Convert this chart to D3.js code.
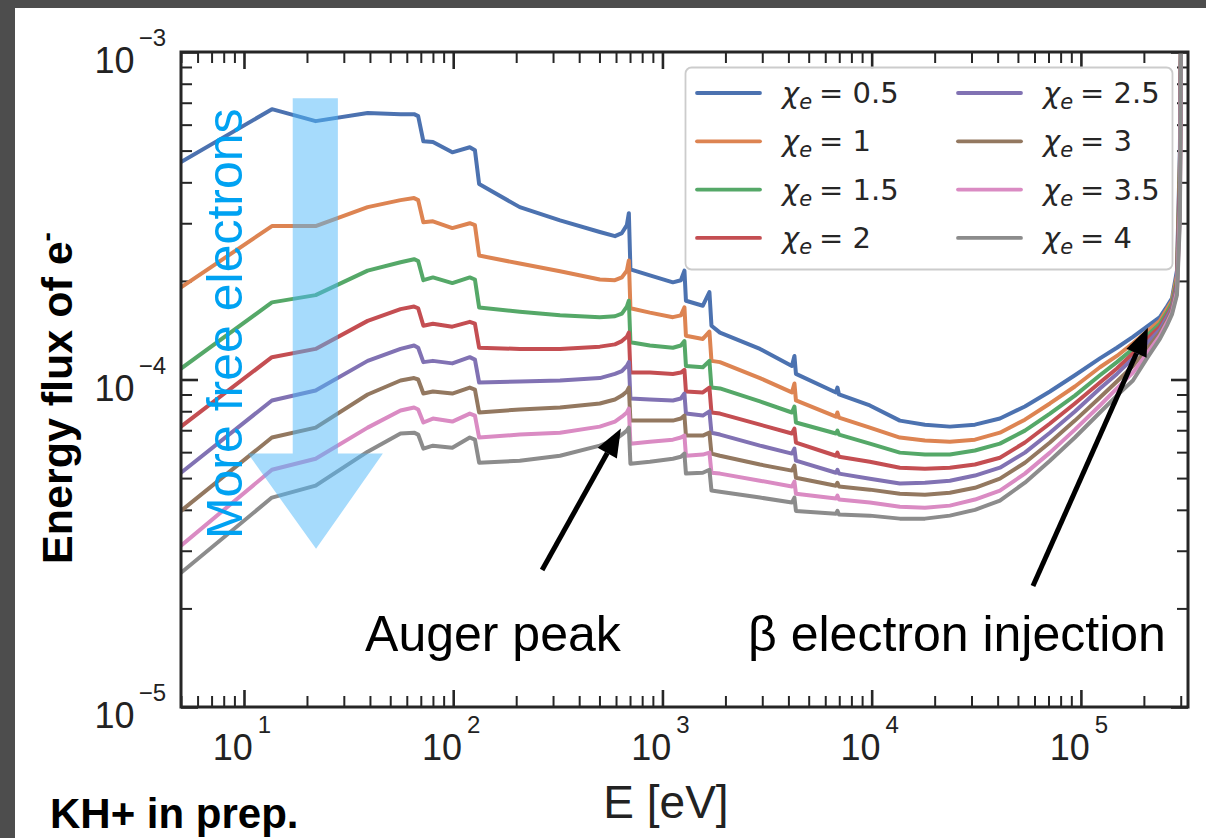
<!DOCTYPE html>
<html><head><meta charset="utf-8">
<script src="https://cdn.jsdelivr.net/npm/d3@7"></script>
<style>html,body{margin:0;padding:0;background:#4d4d4d;} svg{display:block;}</style>
</head><body><svg id="c" width="1206" height="838"></svg>
<script>
// ---------- data ----------
const energy_eV = [5, 13.6, 22, 39, 56, 65, 68, 72, 80, 99, 120, 127, 133, 208, 324, 502, 593, 640, 676, 691, 703, 871, 1122, 1225, 1274, 1295, 1560, 1677, 1715, 1883, 2925, 4157, 4274, 4346, 6749, 6860, 6980, 9800, 13640, 17970, 23650, 31160, 41020, 54000, 71120, 93600, 123300, 148600, 177300, 206800, 238600, 257600, 272400, 287800, 297300, 303000];

const flux_chi05 = [4.61e-4, 6.69e-4, 6.15e-4, 6.51e-4, 6.46e-4, 6.46e-4, 6.37e-4, 5.34e-4, 5.31e-4, 4.94e-4, 5.12e-4, 5.01e-4, 3.95e-4, 3.36e-4, 3.06e-4, 2.82e-4, 2.74e-4, 2.80e-4, 2.96e-4, 3.22e-4, 2.17e-4, 2.08e-4, 1.98e-4, 2.01e-4, 2.15e-4, 1.74e-4, 1.68e-4, 1.85e-4, 1.46e-4, 1.39e-4, 1.24e-4, 1.10e-4, 1.18e-4, 1.04e-4, 9.13e-5, 9.45e-5, 9.00e-5, 8.33e-5, 7.49e-5, 7.28e-5, 7.18e-5, 7.28e-5, 7.60e-5, 8.27e-5, 9.19e-5, 1.03e-4, 1.16e-4, 1.25e-4, 1.35e-4, 1.45e-4, 1.55e-4, 1.67e-4, 1.77e-4, 2.15e-4, 5.01e-4, 2.0e-3];
const flux_chi1 = [1.91e-4, 2.94e-4, 2.94e-4, 3.36e-4, 3.53e-4, 3.58e-4, 3.53e-4, 3.02e-4, 3.04e-4, 2.90e-4, 3.00e-4, 2.96e-4, 2.39e-4, 2.26e-4, 2.14e-4, 2.02e-4, 2.01e-4, 2.05e-4, 2.15e-4, 2.31e-4, 1.65e-4, 1.60e-4, 1.55e-4, 1.57e-4, 1.66e-4, 1.36e-4, 1.33e-4, 1.40e-4, 1.14e-4, 1.13e-4, 1.01e-4, 9.13e-5, 9.72e-5, 8.63e-5, 7.70e-5, 7.93e-5, 7.65e-5, 7.13e-5, 6.65e-5, 6.51e-5, 6.46e-5, 6.55e-5, 6.88e-5, 7.54e-5, 8.45e-5, 9.52e-5, 1.09e-4, 1.18e-4, 1.29e-4, 1.40e-4, 1.51e-4, 1.64e-4, 1.74e-4, 2.08e-4, 4.67e-4, 2.0e-3];
const flux_chi15 = [1.08e-4, 1.72e-4, 1.81e-4, 2.15e-4, 2.28e-4, 2.33e-4, 2.30e-4, 2.01e-4, 2.05e-4, 1.97e-4, 2.05e-4, 2.02e-4, 1.66e-4, 1.61e-4, 1.57e-4, 1.55e-4, 1.56e-4, 1.59e-4, 1.67e-4, 1.74e-4, 1.30e-4, 1.27e-4, 1.25e-4, 1.27e-4, 1.31e-4, 1.10e-4, 1.09e-4, 1.14e-4, 9.45e-5, 9.39e-5, 8.57e-5, 7.93e-5, 8.27e-5, 7.39e-5, 6.84e-5, 6.98e-5, 6.79e-5, 6.37e-5, 5.98e-5, 5.90e-5, 5.90e-5, 6.07e-5, 6.37e-5, 6.98e-5, 7.87e-5, 8.93e-5, 1.03e-4, 1.13e-4, 1.24e-4, 1.36e-4, 1.48e-4, 1.60e-4, 1.71e-4, 2.01e-4, 4.36e-4, 2.0e-3];
const flux_chi2 = [7.18e-5, 1.17e-4, 1.24e-4, 1.51e-4, 1.64e-4, 1.67e-4, 1.65e-4, 1.46e-4, 1.48e-4, 1.45e-4, 1.50e-4, 1.48e-4, 1.25e-4, 1.24e-4, 1.24e-4, 1.26e-4, 1.28e-4, 1.31e-4, 1.35e-4, 1.39e-4, 1.05e-4, 1.05e-4, 1.04e-4, 1.05e-4, 1.07e-4, 9.19e-5, 9.13e-5, 9.45e-5, 7.93e-5, 7.87e-5, 7.28e-5, 6.84e-5, 7.08e-5, 6.42e-5, 5.85e-5, 5.98e-5, 5.81e-5, 5.61e-5, 5.38e-5, 5.34e-5, 5.38e-5, 5.50e-5, 5.77e-5, 6.42e-5, 7.34e-5, 8.45e-5, 9.79e-5, 1.08e-4, 1.20e-4, 1.33e-4, 1.45e-4, 1.57e-4, 1.67e-4, 1.97e-4, 4.06e-4, 2.0e-3];
const flux_chi25 = [5.19e-5, 8.63e-5, 9.26e-5, 1.14e-4, 1.24e-4, 1.27e-4, 1.25e-4, 1.13e-4, 1.14e-4, 1.12e-4, 1.17e-4, 1.15e-4, 9.79e-5, 9.86e-5, 9.93e-5, 1.01e-4, 1.04e-4, 1.06e-4, 1.10e-4, 1.13e-4, 8.75e-5, 8.69e-5, 8.63e-5, 8.75e-5, 9.06e-5, 7.87e-5, 7.76e-5, 7.99e-5, 6.88e-5, 6.79e-5, 6.28e-5, 5.94e-5, 6.15e-5, 5.65e-5, 5.19e-5, 5.30e-5, 5.16e-5, 4.98e-5, 4.81e-5, 4.84e-5, 4.91e-5, 5.09e-5, 5.38e-5, 5.98e-5, 6.88e-5, 7.99e-5, 9.39e-5, 1.04e-4, 1.16e-4, 1.29e-4, 1.42e-4, 1.55e-4, 1.65e-4, 1.93e-4, 3.78e-4, 2.0e-3];
const flux_chi3 = [3.97e-5, 6.65e-5, 7.13e-5, 9.00e-5, 9.93e-5, 1.01e-4, 1.00e-4, 9.06e-5, 9.19e-5, 9.06e-5, 9.45e-5, 9.32e-5, 7.93e-5, 8.10e-5, 8.21e-5, 8.45e-5, 8.69e-5, 8.93e-5, 9.19e-5, 9.45e-5, 7.49e-5, 7.49e-5, 7.49e-5, 7.60e-5, 7.76e-5, 6.74e-5, 6.74e-5, 6.88e-5, 5.94e-5, 5.85e-5, 5.50e-5, 5.27e-5, 5.46e-5, 5.01e-5, 4.74e-5, 4.84e-5, 4.71e-5, 4.61e-5, 4.48e-5, 4.45e-5, 4.51e-5, 4.67e-5, 4.98e-5, 5.57e-5, 6.42e-5, 7.49e-5, 8.81e-5, 9.86e-5, 1.10e-4, 1.24e-4, 1.39e-4, 1.51e-4, 1.63e-4, 1.88e-4, 3.53e-4, 2.0e-3];
const flux_chi35 = [3.11e-5, 5.30e-5, 5.73e-5, 7.13e-5, 8.04e-5, 8.21e-5, 8.10e-5, 7.39e-5, 7.60e-5, 7.44e-5, 7.87e-5, 7.76e-5, 6.65e-5, 6.79e-5, 6.88e-5, 7.18e-5, 7.44e-5, 7.70e-5, 7.93e-5, 8.15e-5, 6.37e-5, 6.46e-5, 6.55e-5, 6.65e-5, 6.74e-5, 5.85e-5, 5.90e-5, 5.98e-5, 5.19e-5, 5.16e-5, 4.91e-5, 4.71e-5, 4.88e-5, 4.48e-5, 4.33e-5, 4.42e-5, 4.30e-5, 4.21e-5, 4.09e-5, 4.06e-5, 4.12e-5, 4.30e-5, 4.58e-5, 5.16e-5, 5.98e-5, 7.03e-5, 8.33e-5, 9.39e-5, 1.05e-4, 1.20e-4, 1.36e-4, 1.49e-4, 1.60e-4, 1.85e-4, 3.29e-4, 2.0e-3];
const flux_chi4 = [2.57e-5, 4.36e-5, 4.74e-5, 6.02e-5, 6.84e-5, 6.88e-5, 6.79e-5, 6.15e-5, 6.28e-5, 6.19e-5, 6.65e-5, 6.55e-5, 5.57e-5, 5.65e-5, 5.85e-5, 6.28e-5, 6.55e-5, 6.79e-5, 6.98e-5, 7.13e-5, 5.53e-5, 5.61e-5, 5.73e-5, 5.81e-5, 5.94e-5, 5.16e-5, 5.19e-5, 5.30e-5, 4.58e-5, 4.54e-5, 4.36e-5, 4.21e-5, 4.36e-5, 3.97e-5, 3.89e-5, 3.97e-5, 3.87e-5, 3.84e-5, 3.76e-5, 3.76e-5, 3.84e-5, 4.00e-5, 4.27e-5, 4.84e-5, 5.65e-5, 6.65e-5, 7.93e-5, 8.93e-5, 9.93e-5, 1.16e-4, 1.33e-4, 1.46e-4, 1.58e-4, 1.81e-4, 3.06e-4, 2.0e-3];

const chiLabels = ["0.5", "1", "1.5", "2", "2.5", "3", "3.5", "4"];
const seriesColors = ["#4c72b0", "#dd8452", "#55a868", "#c44e52", "#8172b3", "#937860", "#da8bc3", "#8c8c8c"];
const seriesFlux = [flux_chi05, flux_chi1, flux_chi15, flux_chi2, flux_chi25, flux_chi3, flux_chi35, flux_chi4];

const xDomain = [5, 3.25e5];
const yDomain = [1e-5, 1e-3];
const xMajorTicks = [10, 100, 1000, 10000, 100000];
const yMajorTicks = [1e-5, 1e-4, 1e-3];
const xTickExponents = ["1", "2", "3", "4", "5"];
const yTickExponents = ["\u22125", "\u22124", "\u22123"];

// annotations (data coordinates)
const freeArrowE = [17.1, 28.1, 28.1, 46.1, 22.1, 10.45, 17.1];
const freeArrowF = [7.23e-4, 7.23e-4, 5.94e-5, 5.94e-5, 3.04e-5, 5.94e-5, 5.94e-5];
const augerArrow = {from: [266, 2.62e-5], to: [633, 7.08e-5]};
const injArrow = {from: [5.9e4, 2.34e-5], to: [2.09e5, 1.44e-4]};

// ---------- drawing ----------
const W = 1206, H = 838;
const L = 181, R = 1188, T = 52, B = 707;
const svg = d3.select("#c");
svg.append("rect").attr("width", W).attr("height", H).attr("fill", "#4d4d4d");
svg.append("rect").attr("x", 15).attr("y", 8).attr("width", W - 15).attr("height", H - 8).attr("fill", "#ffffff");

const x = d3.scaleLog().domain(xDomain).range([L, R]);
const y = d3.scaleLog().domain(yDomain).range([B, T]);

svg.append("defs").append("clipPath").attr("id", "plotclip")
  .append("rect").attr("x", L).attr("y", T).attr("width", R - L).attr("height", B - T);

function minorTicks(domain) {
  const out = [];
  const d0 = Math.floor(Math.log10(domain[0])), d1 = Math.ceil(Math.log10(domain[1]));
  for (let d = d0; d <= d1; d++) for (let m = 2; m <= 9; m++) {
    const v = m * Math.pow(10, d);
    if (v >= domain[0] * 0.999 && v <= domain[1] * 1.001) out.push(v);
  }
  return out;
}
const xMinor = minorTicks(xDomain), yMinor = minorTicks(yDomain);
const axisCol = "#262626";
function styleAxis(g, w) {
  g.select(".domain").remove();
  g.selectAll(".tick line").attr("stroke", axisCol).attr("stroke-width", w);
}
function addAxis(gen, tr, vals, size, w) {
  svg.append("g").attr("transform", tr)
    .call(gen.tickValues(vals).tickSize(-size).tickSizeOuter(0).tickFormat(""))
    .call(g => styleAxis(g, w));
}
addAxis(d3.axisBottom(x), `translate(0,${B})`, xMinor, 11, 2);
addAxis(d3.axisBottom(x), `translate(0,${B})`, xMajorTicks, 17, 2.6);
addAxis(d3.axisTop(x), `translate(0,${T})`, xMinor, 11, 2);
addAxis(d3.axisTop(x), `translate(0,${T})`, xMajorTicks, 17, 2.6);
addAxis(d3.axisLeft(y), `translate(${L},0)`, yMinor, 11, 2);
addAxis(d3.axisLeft(y), `translate(${L},0)`, yMajorTicks, 17, 2.6);
addAxis(d3.axisRight(y), `translate(${R},0)`, yMinor, 11, 2);
addAxis(d3.axisRight(y), `translate(${R},0)`, yMajorTicks, 17, 2.6);

// tick labels
const tickFont = "'Liberation Sans', Arial, Helvetica, sans-serif";
xMajorTicks.forEach((v, i) => {
  const t = svg.append("text").attr("x", x(v) - 2).attr("y", 760)
    .attr("text-anchor", "middle").attr("font-family", tickFont).attr("fill", "#222");
  t.append("tspan").attr("font-size", 36).text("10");
  t.append("tspan").attr("font-size", 24).attr("dx", 5).attr("dy", -27).text(xTickExponents[i]);
});
yMajorTicks.forEach((v, i) => {
  const t = svg.append("text").attr("x", 166).attr("y", y(v) + 21)
    .attr("text-anchor", "end").attr("font-family", tickFont).attr("fill", "#222");
  t.append("tspan").attr("font-size", 36).text("10");
  t.append("tspan").attr("font-size", 24).attr("dx", 4).attr("dy", -27).text(yTickExponents[i]);
});

// data lines
const line = d3.line().x((d, i) => x(energy_eV[i])).y(d => y(d));
const plot = svg.append("g").attr("clip-path", "url(#plotclip)");
seriesFlux.forEach((s, k) => {
  plot.append("path").attr("d", line(s)).attr("fill", "none")
    .attr("stroke", seriesColors[k]).attr("stroke-width", 4)
    .attr("stroke-linejoin", "round").attr("stroke-linecap", "round");
});

// frame
svg.append("rect").attr("x", L).attr("y", T).attr("width", R - L).attr("height", B - T)
  .attr("fill", "none").attr("stroke", axisCol).attr("stroke-width", 3);

// big translucent arrow
svg.append("path")
  .attr("d", d3.line()(freeArrowE.map((e, i) => [x(e), y(freeArrowF[i])])) + "Z")
  .attr("fill", "rgb(77,183,249)").attr("fill-opacity", 0.5);

svg.append("text").attr("transform", `translate(${x(9.78)},${y(1.48e-4)}) rotate(-90)`)
  .attr("text-anchor", "middle").attr("font-family", tickFont).attr("font-size", 50)
  .attr("fill", "#00a2f2").text("More free electrons");

// black arrows
function blackArrow(a) {
  const x0 = x(a.from[0]), y0 = y(a.from[1]), x1 = x(a.to[0]), y1 = y(a.to[1]);
  const ang = Math.atan2(y1 - y0, x1 - x0);
  const hl = 28, hw = 11;
  const bx = x1 - hl * Math.cos(ang), by = y1 - hl * Math.sin(ang);
  svg.append("line").attr("x1", x0).attr("y1", y0).attr("x2", bx).attr("y2", by)
    .attr("stroke", "#000").attr("stroke-width", 5);
  const px = -Math.sin(ang), py = Math.cos(ang);
  svg.append("path").attr("d", `M${x1},${y1}L${bx + px * hw},${by + py * hw}L${bx - px * hw},${by - py * hw}Z`)
    .attr("fill", "#000");
}
blackArrow(augerArrow);
blackArrow(injArrow);

svg.append("text").attr("x", x(37.9)).attr("y", y(1.48e-5)).attr("font-family", tickFont)
  .attr("font-size", 50).attr("fill", "#000").text("Auger peak");
svg.append("text").attr("x", x(2565)).attr("y", y(1.48e-5)).attr("font-family", tickFont)
  .attr("font-size", 50).attr("fill", "#000").text("\u03b2 electron injection");

// axis titles
const yl = svg.append("text").attr("transform", "translate(72,398) rotate(-90)")
  .attr("text-anchor", "middle").attr("font-family", tickFont).attr("font-weight", "bold")
  .attr("font-size", 43).attr("fill", "#000");
yl.append("tspan").text("Energy flux of e");
yl.append("tspan").attr("font-size", 28).attr("dy", -16).text("-");

svg.append("text").attr("x", 666).attr("y", 818).attr("text-anchor", "middle")
  .attr("font-family", tickFont).attr("font-size", 46).attr("fill", "#222").text("E [eV]");

svg.append("text").attr("x", 50).attr("y", 828).attr("font-family", tickFont)
  .attr("font-weight", "bold").attr("font-size", 42).attr("fill", "#000").text("KH+ in prep.");

// legend
const lg = svg.append("g");
lg.append("rect").attr("x", 685.5).attr("y", 67.5).attr("width", 487).attr("height", 202).attr("rx", 6)
  .attr("fill", "#fff").attr("fill-opacity", 0.85).attr("stroke", "#cccccc").attr("stroke-width", 1.8);
const legFont = "'DejaVu Sans', Verdana, sans-serif";
chiLabels.forEach((lab, i) => {
  const col = Math.floor(i / 4), row = i % 4;
  const lx = col === 0 ? 697 : 958, tx = col === 0 ? 782 : 1043;
  const ly = 93 + row * 48.3;
  lg.append("line").attr("x1", lx).attr("x2", lx + 63).attr("y1", ly).attr("y2", ly)
    .attr("stroke", seriesColors[i]).attr("stroke-width", 3.8).attr("stroke-linecap", "round");
  const t = lg.append("text").attr("x", tx).attr("y", ly + 10).attr("font-family", legFont)
    .attr("font-size", 29).attr("fill", "#262626");
  t.append("tspan").attr("font-style", "italic").text("\u03c7");
  t.append("tspan").attr("font-style", "italic").attr("font-size", 21).attr("dy", 6).text("e");
  t.append("tspan").attr("dy", -6).attr("dx", 7).text("= " + lab);
});
</script></body></html>
